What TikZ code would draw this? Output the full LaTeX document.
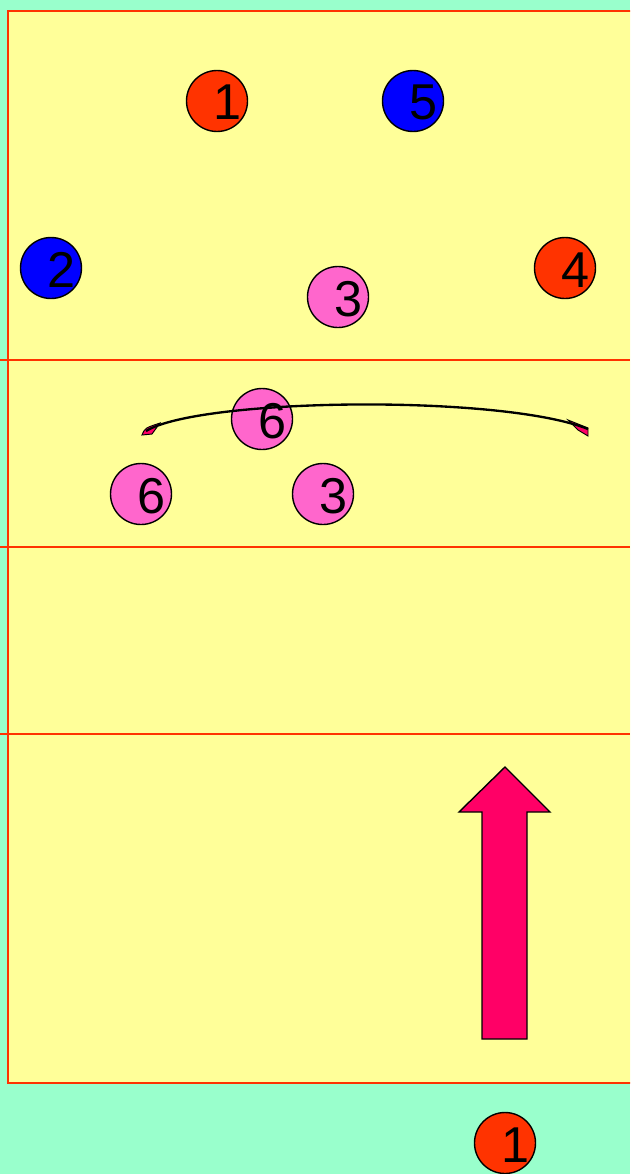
\documentclass[tikz,border=0pt]{standalone}
\usepackage{fontspec}
\setmainfont{Liberation Sans}
\definecolor{mint}{HTML}{99FFCC}
\definecolor{court}{HTML}{FFFF99}
\definecolor{lineRed}{HTML}{FF3300}
\definecolor{teamRed}{HTML}{FF3300}
\definecolor{teamBlue}{HTML}{0000FF}
\definecolor{teamPink}{HTML}{FF66CC}
\definecolor{runPink}{HTML}{FF0066}
\tikzset{
  player/.style={circle,draw=black,line width=1.2pt,minimum size=1.83cm,inner sep=0pt},
  redp/.style={player,fill=teamRed},
  bluep/.style={player,fill=teamBlue},
  pinkp/.style={player,fill=teamPink},
  num/.style={font=\fontsize{43}{43}\selectfont,text=black,xshift=0.33cm,yshift=-0.05cm},
  courtline/.style={draw=lineRed,line width=1.3pt},
  run/.style={draw=black,fill=runPink,line width=1.2pt}
}

\begin{document}
\begin{tikzpicture}[x=0.03cm,y=-0.03cm]
  \useasboundingbox (0,0) rectangle (630,1174);
  \clip (0,0) rectangle (630,1174);
  \fill[mint] (0,0) rectangle (630,1174);

  % Court and attack lines.
  \draw[courtline,fill=court] (8,11) rectangle (660,1083);
  \draw[courtline] (0,360) -- (630,360);
  \draw[courtline] (0,547) -- (630,547);
  \draw[courtline] (0,734) -- (630,734);

  % Players.
  \node[redp,label={[num]center:1}] (r1) at (217,101) {};
  \node[bluep,label={[num]center:5}] (b5) at (413,101) {};
  \node[bluep,label={[num]center:2}] (b2) at (51,268) {};
  \node[redp,label={[num]center:4}] (r4) at (565,268) {};
  \node[pinkp,label={[num]center:3}] (p3a) at (338,297) {};
  \node[pinkp,label={[num]center:6}] (p6a) at (262,419) {};
  \node[pinkp,label={[num]center:6}] (p6b) at (141,494) {};
  \node[pinkp,label={[num]center:3}] (p3b) at (323,494) {};
  \node[redp,label={[num]center:1}] (r1s) at (505,1143) {};

  % Run of the server.
  \draw[run] (459,812) -- (505,767) -- (550,812) -- (527,812) -- (527,1039)
    -- (482,1039) -- (482,812) -- cycle;

  % Set trajectory, pink tapered ends.
  \draw[run,line width=0.8pt] (142,435) .. controls (145,428) .. (160,423) -- (152,434) -- cycle;
  \draw[run,line width=0.8pt] (588,428) -- (568,420) -- (578,430) -- (588,436) -- cycle;
  \draw[black,line width=2pt]
    (146,431) .. controls (200,398) and (500,394) .. (588,429);
\end{tikzpicture}
\end{document}
